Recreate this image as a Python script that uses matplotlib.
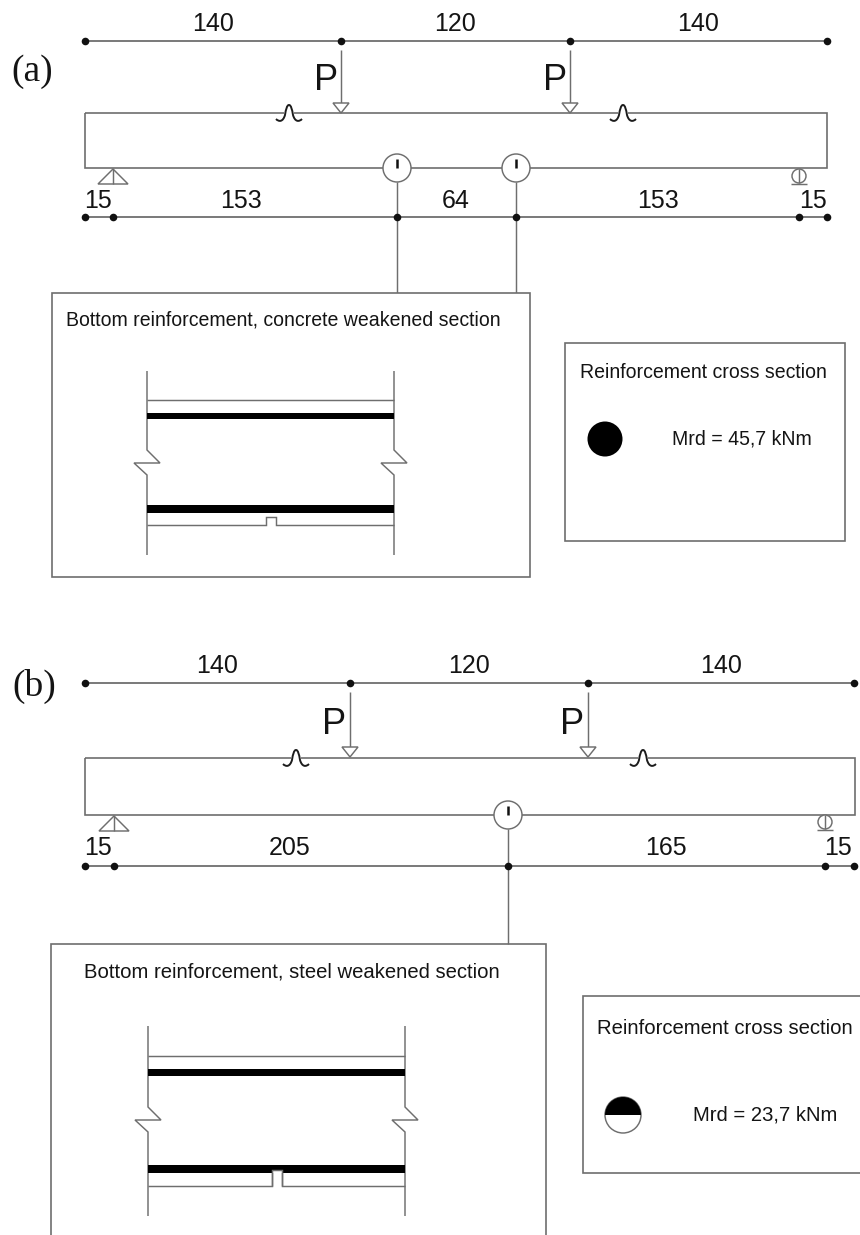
import matplotlib
matplotlib.use('Agg')
import matplotlib.pyplot as plt
from matplotlib.patches import Circle, Polygon, PathPatch, Rectangle, Wedge
from matplotlib.path import Path

# spans (cm)
top_spans = ['140', '120', '140']
low_spans_a = ['15', '153', '64', '153', '15']
low_spans_b = ['15', '205', '165', '15']

# node positions along the dimension lines (pixels of the sheet)
top_nodes_a = [85, 341, 570, 827]
low_nodes_a = [85, 113, 397, 516, 799, 827]
low_labels_a = [98, 241, 456, 658, 813]
top_nodes_b = [85, 350, 588, 854]
low_nodes_b = [85, 114, 508, 825, 854]
low_labels_b = [98, 290, 666, 838]

mrd_a = 'Mrd = 45,7 kNm'
mrd_b = 'Mrd = 23,7 kNm'

LINE = '#6e6e6e'
DARK = '#141414'
LW = 1.05
SIZE_A = 14.05
SIZE_B = 14.6

plt.rcParams['font.family'] = ['Liberation Sans', 'DejaVu Sans']

fig = plt.figure(figsize=(8.6, 12.35), dpi=100, facecolor='white')
ax = fig.add_axes([0, 0, 1, 1])
ax.set_xlim(0, 860)
ax.set_ylim(1235, 0)
ax.axis('off')


def line(xs, ys, lw=LW, color=LINE, z=2):
    ax.plot(xs, ys, color=color, lw=lw, zorder=z, solid_capstyle='butt', solid_joinstyle='miter')


def text(x, y, s, size=18, ha='center', **kw):
    ax.text(x, y, s, fontsize=size, ha=ha, va='center', color=DARK, **kw)


def dim_line(nodes, y):
    line([nodes[0], nodes[-1]], [y, y], lw=1.3)
    ax.scatter(nodes, [y] * len(nodes), s=30, color='#111111', linewidths=0, zorder=4)


def load(x, y_top, y_beam, p_x):
    line([x, x], [y_top, y_beam - 10])
    ax.add_patch(Polygon([(x - 8, y_beam - 10), (x + 8, y_beam - 10), (x, y_beam)],
                         closed=True, fc='white', ec=LINE, lw=LW, zorder=3))
    text(p_x, y_beam - 33, 'P', size=26)


def beam_break(x, y):
    # little bell symbol sitting on the top edge of the beam
    ax.add_patch(Rectangle((x - 5, y - 2), 10, 4, fc='white', ec='none', zorder=3))
    verts = [(x - 13, y + 6), (x - 10, y + 9), (x - 6, y + 9), (x - 4, y + 2),
             (x - 3, y - 4), (x - 2, y - 8), (x, y - 8),
             (x + 2, y - 8), (x + 3, y - 4), (x + 4, y + 2),
             (x + 6, y + 9), (x + 10, y + 9), (x + 13, y + 6)]
    codes = [Path.MOVETO] + [Path.CURVE4] * 12
    ax.add_patch(PathPatch(Path(verts, codes), fc='none', ec='#1c1c1c', lw=1.4, zorder=4))


def gauge(x, y):
    ax.add_patch(Circle((x, y), 14, fc='white', ec=LINE, lw=LW, zorder=3))
    line([x, x], [y - 9, y], lw=1.8, color='#111111', z=4)


def hinge(x, y, half=15, h=15):
    ax.add_patch(Polygon([(x, y), (x - half, y + h), (x + half, y + h)],
                         closed=True, fc='white', ec=LINE, lw=LW, zorder=3))
    line([x, x], [y, y + h], z=4)


def roller(x, y):
    ax.add_patch(Circle((x, y + 7), 7, fc='white', ec=LINE, lw=LW, zorder=3))
    line([x, x], [y, y + 14], z=4)
    line([x - 8, x + 8], [y + 15, y + 15], z=4)


def section(x0, x1, y0, y1, top, bar1, t1, bar2, t2, bot, notch, brk):
    # side walls with the zigzag break, then the two bars and the concrete faces
    for x in (x0, x1):
        line([x, x, x + 13, x - 13, x, x],
             [y0, brk, brk + 13, brk + 13, brk + 25, y1])
    line([x0, x1], [top, top])
    ax.add_patch(Rectangle((x0, bar1 - t1 / 2), x1 - x0, t1, fc='black', ec='none', zorder=3))
    ax.add_patch(Rectangle((x0, bar2 - t2 / 2), x1 - x0, t2, fc='black', ec='none', zorder=3))
    nx0, nx1, ny = notch
    line([x0, nx0, nx0, nx1, nx1, x1], [bot, bot, ny, ny, bot, bot])
    if ny < bar2 + t2 / 2:
        ax.add_patch(Rectangle((nx0, ny), nx1 - nx0, bar2 + t2 / 2 - ny, fc='white', ec='none', zorder=4))
        line([nx0, nx0, nx1, nx1], [bot, ny, ny, bot], z=5)


# ---- panel (a) ----
ax.text(32, 72, '(a)', fontsize=27, family='Liberation Serif', ha='center', va='center', color=DARK)
dim_line(top_nodes_a, 41)
for i, s in enumerate(top_spans):
    text((top_nodes_a[i] + top_nodes_a[i + 1]) / 2, 24, s)
line([85, 827, 827, 85, 85], [113, 113, 168, 168, 113], lw=1.2)
load(341, 50, 113, 326)
load(570, 50, 113, 555)
beam_break(289, 113)
beam_break(623, 113)
gauge(397, 168)
gauge(516, 168)
hinge(113, 169)
roller(799, 169)
for x, s in zip(low_labels_a, low_spans_a):
    text(x, 201, s)
dim_line(low_nodes_a, 217)
line([397, 397], [182, 293])
line([516, 516], [182, 293])

ax.add_patch(Rectangle((52, 293), 478, 284, fc='white', ec=LINE, lw=1.2, zorder=2))
text(66, 320, 'Bottom reinforcement, concrete weakened section', size=SIZE_A, ha='left')
section(147, 394, 371, 555, 400, 416, 6.5, 509, 8, 525, (266, 276, 517), 450)

ax.add_patch(Rectangle((565, 343), 280, 198, fc='white', ec=LINE, lw=1.2, zorder=2))
text(580, 373, 'Reinforcement cross section', size=SIZE_A, ha='left')
ax.add_patch(Circle((605, 439), 17.5, fc='black', ec='none', zorder=3))
text(672, 439, mrd_a, size=SIZE_A, ha='left')

# ---- panel (b) ----
ax.text(34, 686, '(b)', fontsize=27, family='Liberation Serif', ha='center', va='center', color=DARK)
dim_line(top_nodes_b, 683)
for i, s in enumerate(top_spans):
    text((top_nodes_b[i] + top_nodes_b[i + 1]) / 2, 666, s)
line([85, 855, 855, 85, 85], [758, 758, 815, 815, 758], lw=1.2)
load(350, 692, 757, 334)
load(588, 692, 757, 572)
beam_break(296, 758)
beam_break(643, 758)
gauge(508, 815)
hinge(114, 816)
roller(825, 815)
for x, s in zip(low_labels_b, low_spans_b):
    text(x, 848, s)
dim_line(low_nodes_b, 866)
line([508, 508], [829, 944])

line([51, 51, 546, 546], [1235, 944, 944, 1235], lw=1.2)
text(84, 972, 'Bottom reinforcement, steel weakened section', size=SIZE_B, ha='left')
section(148, 405, 1026, 1216, 1056, 1072, 7, 1169, 8, 1186, (272, 282, 1170), 1107)

line([860, 583, 583, 860], [996, 996, 1173, 1173], lw=1.2)
text(597, 1028, 'Reinforcement cross section', size=SIZE_B, ha='left')
ax.add_patch(Circle((623, 1115), 18, fc='white', ec=LINE, lw=LW, zorder=3))
ax.add_patch(Wedge((623, 1115), 18, 180, 360, fc='black', ec='none', zorder=4))
text(693, 1115, mrd_b, size=SIZE_B, ha='left')

fig.savefig('out.png', dpi=100, facecolor='white')
